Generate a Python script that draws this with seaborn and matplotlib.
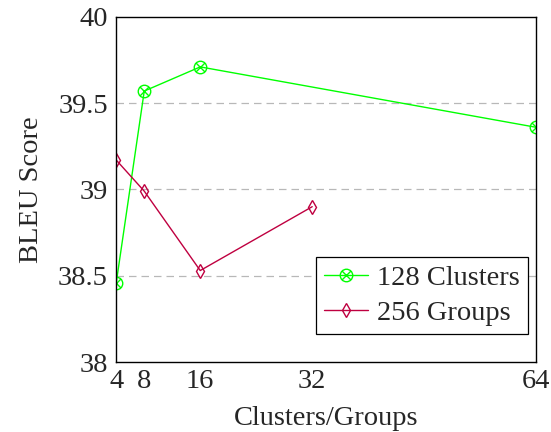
import matplotlib
matplotlib.use("Agg")
import matplotlib.pyplot as plt
from matplotlib.path import Path
import seaborn as sns
import pandas as pd

# data
clusters_x = [4, 8, 16, 64]
clusters_bleu = [38.46, 39.57, 39.71, 39.36]
groups_x = [4, 8, 16, 32]
groups_bleu = [39.17, 38.99, 38.53, 38.90]
x_ticks = [4, 8, 16, 32, 64]
y_ticks = [38, 38.5, 39, 39.5, 40]

sns.set_style("white")
plt.rcParams["font.family"] = ["Liberation Serif", "DejaVu Serif"]

# circle with an x inside (pgfplots otimes)
d = 0.7071
otimes = Path.make_compound_path(
    Path.unit_circle(),
    Path([(-d, -d), (d, d)], [Path.MOVETO, Path.LINETO]),
    Path([(-d, d), (d, -d)], [Path.MOVETO, Path.LINETO]),
)

df_c = pd.DataFrame({"x": clusters_x, "y": clusters_bleu})
df_g = pd.DataFrame({"x": groups_x, "y": groups_bleu})

fig, ax = plt.subplots(figsize=(5.51, 4.32), dpi=100)
fig.subplots_adjust(left=0.211, right=0.973, top=0.961, bottom=0.162)

for yv in y_ticks[1:-1]:
    ax.axhline(yv, color="#b8b8b8", linestyle=(0, (6, 4)), linewidth=0.9, zorder=0)

sns.lineplot(data=df_c, x="x", y="y", ax=ax, color="#00ff00", linewidth=1.0,
             marker=otimes, markersize=9, markerfacecolor="none",
             markeredgecolor="#00ff00", markeredgewidth=1.0, label="128 Clusters")
sns.lineplot(data=df_g, x="x", y="y", ax=ax, color="#bf0040", linewidth=1.0,
             marker="d", markersize=7, markerfacecolor="none",
             markeredgecolor="#bf0040", markeredgewidth=1.0, label="256 Groups")

ax.set_xlim(4, 64)
ax.set_ylim(38, 40)
ax.set_xticks(x_ticks)
ax.set_xticklabels([str(v) for v in x_ticks])
ax.set_yticks(y_ticks)
ax.set_yticklabels(["38", "38.5", "39", "39.5", "40"])
ax.tick_params(axis="x", direction="in", length=5, color="#909090", labelsize=20.5, pad=5)
ax.tick_params(axis="y", length=0, labelsize=20.5, pad=6)

for s in ax.spines.values():
    s.set_color("black")
    s.set_linewidth(1.0)

ax.set_xlabel("Clusters/Groups", fontsize=20.5, labelpad=9)
ax.set_ylabel("BLEU Score", fontsize=20.5, labelpad=10)

leg = ax.legend(loc="lower right", bbox_to_anchor=(0.981, 0.081), borderaxespad=0,
                fontsize=20.5, frameon=True, fancybox=False,
                edgecolor="black", framealpha=1,
                handlelength=1.55, handletextpad=0.3, borderpad=0.3, labelspacing=0.3)
leg.get_frame().set_linewidth(0.9)

fig.savefig("out.png", dpi=100)
